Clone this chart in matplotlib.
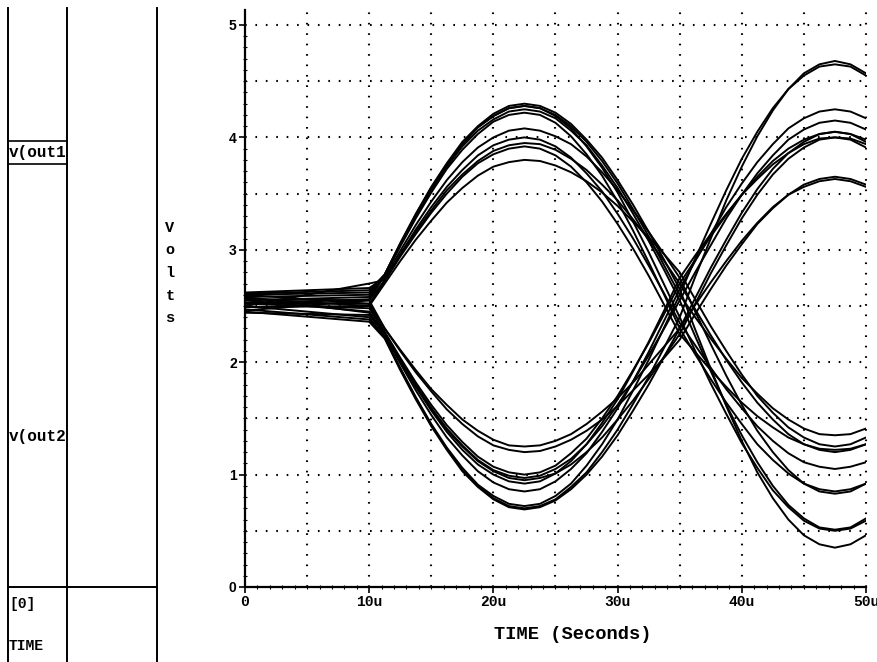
import matplotlib
matplotlib.use("Agg")
import matplotlib.pyplot as plt
from matplotlib.lines import Line2D
from matplotlib.ticker import FixedLocator, FuncFormatter

# tid i mikrosekunder (0, 10u og så hvert 1.25u)
time_us = [0, 10, 11.25, 12.5, 13.75, 15, 16.25, 17.5, 18.75, 20, 21.25, 22.5,
           23.75, 25, 26.25, 27.5, 28.75, 30, 31.25, 32.5, 33.75, 35, 36.25,
           37.5, 38.75, 40, 41.25, 42.5, 43.75, 45, 46.25, 47.5, 48.75, 50]

# v(out1) - går opp først
out1_a = [2.60, 2.62, 2.78, 3.06, 3.32, 3.56, 3.77, 3.96, 4.10, 4.21, 4.28, 4.30,
          4.28, 4.22, 4.12, 3.98, 3.82, 3.62, 3.40, 3.16, 2.91, 2.65,
          2.29, 1.94, 1.61, 1.30, 1.02, 0.79, 0.60, 0.46, 0.38, 0.35, 0.38, 0.46]
out1_b = [2.58, 2.60, 2.78, 3.05, 3.31, 3.55, 3.76, 3.94, 4.09, 4.19, 4.26, 4.28,
          4.26, 4.19, 4.08, 3.92, 3.73, 3.51, 3.25, 2.98, 2.69, 2.40,
          2.10, 1.81, 1.54, 1.28, 1.06, 0.86, 0.71, 0.59, 0.52, 0.50, 0.52, 0.59]
out1_c = [2.55, 2.58, 2.77, 3.04, 3.29, 3.53, 3.74, 3.92, 4.06, 4.16, 4.23, 4.25,
          4.23, 4.17, 4.06, 3.93, 3.75, 3.55, 3.32, 3.08, 2.82, 2.55,
          2.23, 1.92, 1.62, 1.35, 1.11, 0.90, 0.73, 0.61, 0.53, 0.51, 0.53, 0.61]
out1_d = [2.52, 2.56, 2.77, 3.03, 3.28, 3.51, 3.72, 3.89, 4.03, 4.14, 4.20, 4.22,
          4.20, 4.13, 4.01, 3.85, 3.66, 3.43, 3.17, 2.89, 2.60, 2.30,
          2.07, 1.85, 1.64, 1.45, 1.27, 1.13, 1.01, 0.92, 0.87, 0.85, 0.87, 0.92]
out1_e = [2.62, 2.66, 2.75, 2.99, 3.22, 3.43, 3.62, 3.78, 3.91, 4.00, 4.06, 4.08,
          4.06, 4.01, 3.94, 3.83, 3.69, 3.53, 3.35, 3.16, 2.96, 2.75,
          2.45, 2.16, 1.88, 1.62, 1.39, 1.20, 1.04, 0.92, 0.85, 0.83, 0.85, 0.92]
out1_f = [2.50, 2.70, 2.73, 2.96, 3.18, 3.38, 3.56, 3.71, 3.84, 3.93, 3.98, 4.00,
          3.98, 3.92, 3.82, 3.68, 3.52, 3.32, 3.10, 2.86, 2.61, 2.35,
          2.15, 1.95, 1.76, 1.59, 1.43, 1.30, 1.19, 1.11, 1.07, 1.05, 1.07, 1.11]
out1_g = [2.46, 2.55, 2.73, 2.95, 3.16, 3.35, 3.53, 3.67, 3.79, 3.88, 3.93, 3.95,
          3.94, 3.89, 3.81, 3.71, 3.58, 3.44, 3.27, 3.09, 2.90, 2.70,
          2.47, 2.24, 2.02, 1.82, 1.64, 1.49, 1.36, 1.27, 1.22, 1.20, 1.22, 1.27]
out1_h = [2.53, 2.52, 2.72, 2.94, 3.14, 3.33, 3.50, 3.65, 3.77, 3.85, 3.90, 3.92,
          3.90, 3.84, 3.74, 3.60, 3.43, 3.23, 3.01, 2.77, 2.51, 2.25,
          2.09, 1.93, 1.78, 1.64, 1.52, 1.42, 1.33, 1.27, 1.23, 1.22, 1.23, 1.27]
out1_i = [2.57, 2.50, 2.70, 2.90, 3.09, 3.26, 3.42, 3.55, 3.66, 3.74, 3.78, 3.80,
          3.79, 3.75, 3.69, 3.61, 3.51, 3.39, 3.25, 3.11, 2.96, 2.80,
          2.56, 2.32, 2.10, 1.89, 1.70, 1.55, 1.42, 1.33, 1.27, 1.25, 1.27, 1.33]
out1_j = [2.61, 2.64, 2.78, 3.05, 3.31, 3.55, 3.76, 3.94, 4.09, 4.19, 4.26, 4.28,
          4.26, 4.20, 4.10, 3.96, 3.79, 3.59, 3.36, 3.12, 2.86, 2.60,
          2.40, 2.21, 2.03, 1.86, 1.72, 1.59, 1.49, 1.41, 1.36, 1.35, 1.36, 1.41]

# v(out2) - går ned først
out2_a = [2.47, 2.38, 2.22, 1.94, 1.68, 1.44, 1.23, 1.04, 0.90, 0.79, 0.72, 0.70,
          0.72, 0.78, 0.89, 1.02, 1.20, 1.40, 1.63, 1.87, 2.13, 2.40,
          2.76, 3.10, 3.44, 3.74, 4.01, 4.24, 4.43, 4.57, 4.65, 4.68, 4.65, 4.57]
out2_b = [2.50, 2.40, 2.22, 1.95, 1.69, 1.45, 1.24, 1.06, 0.91, 0.81, 0.74, 0.72,
          0.74, 0.81, 0.92, 1.08, 1.27, 1.49, 1.75, 2.02, 2.31, 2.60,
          2.92, 3.23, 3.53, 3.81, 4.05, 4.26, 4.43, 4.55, 4.63, 4.65, 4.63, 4.55]
out2_c = [2.45, 2.36, 2.21, 1.93, 1.67, 1.43, 1.22, 1.03, 0.89, 0.78, 0.71, 0.69,
          0.71, 0.77, 0.87, 1.00, 1.16, 1.35, 1.57, 1.80, 2.05, 2.30,
          2.57, 2.84, 3.09, 3.33, 3.54, 3.72, 3.86, 3.96, 4.03, 4.05, 4.03, 3.96]
out2_d = [2.55, 2.45, 2.24, 1.99, 1.75, 1.53, 1.33, 1.17, 1.03, 0.93, 0.87, 0.85,
          0.87, 0.94, 1.05, 1.19, 1.38, 1.59, 1.83, 2.09, 2.37, 2.65,
          2.90, 3.14, 3.38, 3.59, 3.78, 3.94, 4.08, 4.17, 4.23, 4.25, 4.23, 4.17]
out2_e = [2.52, 2.48, 2.26, 2.02, 1.80, 1.59, 1.40, 1.25, 1.12, 1.03, 0.97, 0.95,
          0.97, 1.01, 1.09, 1.20, 1.33, 1.49, 1.66, 1.85, 2.05, 2.25,
          2.52, 2.79, 3.04, 3.28, 3.49, 3.67, 3.81, 3.91, 3.98, 4.00, 3.98, 3.91]
out2_f = [2.49, 2.50, 2.27, 2.04, 1.82, 1.62, 1.44, 1.29, 1.16, 1.07, 1.02, 1.00,
          1.02, 1.08, 1.19, 1.32, 1.50, 1.70, 1.93, 2.17, 2.43, 2.70,
          2.91, 3.12, 3.31, 3.49, 3.65, 3.79, 3.90, 3.98, 4.03, 4.05, 4.03, 3.98]
out2_g = [2.58, 2.44, 2.24, 2.01, 1.79, 1.59, 1.41, 1.26, 1.13, 1.04, 0.99, 0.97,
          0.99, 1.05, 1.14, 1.27, 1.43, 1.62, 1.83, 2.06, 2.30, 2.55,
          2.80, 3.04, 3.28, 3.49, 3.68, 3.84, 3.98, 4.07, 4.13, 4.15, 4.13, 4.07]
out2_h = [2.60, 2.52, 2.30, 2.10, 1.91, 1.74, 1.58, 1.45, 1.34, 1.26, 1.22, 1.20,
          1.21, 1.25, 1.31, 1.39, 1.49, 1.61, 1.75, 1.89, 2.04, 2.20,
          2.43, 2.65, 2.86, 3.05, 3.23, 3.37, 3.49, 3.58, 3.63, 3.65, 3.63, 3.58]
out2_i = [2.56, 2.55, 2.30, 2.11, 1.93, 1.76, 1.62, 1.49, 1.39, 1.31, 1.26, 1.25,
          1.26, 1.30, 1.36, 1.45, 1.56, 1.68, 1.82, 1.98, 2.14, 2.30,
          2.51, 2.71, 2.90, 3.08, 3.24, 3.38, 3.49, 3.56, 3.61, 3.63, 3.61, 3.56]
out2_j = [2.44, 2.42, 2.25, 2.01, 1.78, 1.57, 1.38, 1.22, 1.09, 1.00, 0.94, 0.92,
          0.94, 1.01, 1.12, 1.27, 1.46, 1.67, 1.92, 2.18, 2.46, 2.75,
          2.95, 3.14, 3.32, 3.49, 3.63, 3.76, 3.86, 3.94, 3.99, 4.00, 3.99, 3.94]

out1_runs = [out1_a, out1_b, out1_c, out1_d, out1_e, out1_f, out1_g, out1_h, out1_i, out1_j]
out2_runs = [out2_a, out2_b, out2_c, out2_d, out2_e, out2_f, out2_g, out2_h, out2_i, out2_j]

# akser, rutenett og etiketter
x_major = [0, 10, 20, 30, 40, 50]
x_grid = [5, 10, 15, 20, 25, 30, 35, 40, 45, 50]
y_major = [0, 1, 2, 3, 4, 5]
y_grid = [0.5, 1, 1.5, 2, 2.5, 3, 3.5, 4, 4.5, 5]
x_minor = list(range(0, 51))
y_minor = [i / 10 for i in range(0, 51)]

W, H = 878, 662
fig = plt.figure(figsize=(W / 100, H / 100), dpi=100)
mono = "Liberation Mono"


def px(x, y):
    # piksel -> figurkoordinater
    return x / W, 1 - y / H


def linje(x0, y0, x1, y1, lw=1.4):
    a = px(x0, y0)
    b = px(x1, y1)
    fig.add_artist(Line2D([a[0], b[0]], [a[1], b[1]], color="black", lw=lw))


def tekst(x, y, s, size=10, **kw):
    fx, fy = px(x, y)
    fig.text(fx, fy, s, fontsize=size, family=mono, fontweight="bold",
             va="center", **kw)


# venstre panel
linje(8, 8, 8, 662)
linje(67, 8, 67, 662)
linje(157, 8, 157, 662)
linje(8, 587, 157, 587)
linje(8, 141, 67, 141, lw=1.2)
linje(8, 164, 67, 164, lw=1.2)
tekst(9, 152, "v(out1", size=11.5)
tekst(9, 437, "v(out2", size=11.5)
tekst(9, 604, "[0]", size=10.5)
tekst(9, 646, "TIME", size=10.5)
for i, ch in enumerate("Volts"):
    tekst(170, 228 + i * 22.5, ch, size=11, ha="center")

# selve plottet
left, right = px(245, 0)[0], px(866, 0)[0]
bottom, top = px(0, 587)[1], px(0, 10)[1]
ax = fig.add_axes([left, bottom, right - left, top - bottom])
ax.set_xlim(0, 50)
ax.set_ylim(0, (587 - 10) / 112.4)

for xv in x_grid:
    ax.axvline(xv, color="black", lw=1.5, linestyle=(0, (0.8, 4.2)), clip_on=False, zorder=1)
for yv in y_grid:
    ax.axhline(yv, color="black", lw=1.5, linestyle=(0, (0.8, 4.2)), clip_on=False, zorder=1)

for run in out1_runs + out2_runs:
    ax.plot(time_us, run, color="black", lw=1.4, zorder=3)

for side in ["top", "right"]:
    ax.spines[side].set_visible(False)
for side in ["left", "bottom"]:
    ax.spines[side].set_linewidth(1.6)

ax.xaxis.set_major_locator(FixedLocator(x_major))
ax.xaxis.set_minor_locator(FixedLocator(x_minor))
ax.yaxis.set_major_locator(FixedLocator(y_major))
ax.yaxis.set_minor_locator(FixedLocator(y_minor))
ax.xaxis.set_major_formatter(FuncFormatter(lambda v, p: "0" if v == 0 else "%du" % v))
ax.tick_params(axis="both", which="major", direction="out", length=4, width=1.2, pad=2)
ax.tick_params(axis="both", which="minor", direction="inout", length=3, width=0.8)
for lab in ax.get_xticklabels():
    lab.set_family(mono)
    lab.set_fontweight("bold")
    lab.set_fontsize(10.5)
for lab in ax.get_yticklabels():
    lab.set_family("Liberation Sans")
    lab.set_fontweight("bold")
    lab.set_fontsize(10)

ax.set_xlabel("TIME (Seconds)", family=mono, fontweight="bold", fontsize=13.5)
ax.xaxis.set_label_coords(0.527, -0.068)

fig.savefig("out.png", dpi=100)
